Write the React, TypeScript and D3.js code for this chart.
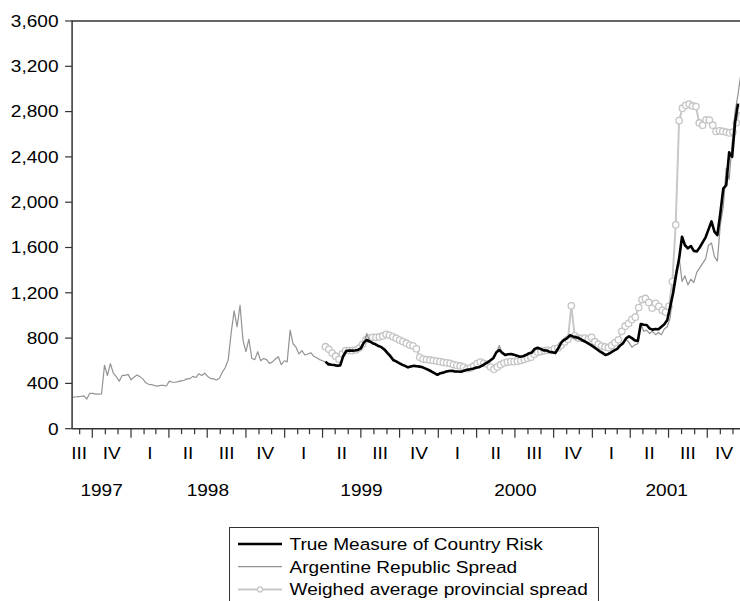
import React from 'react';
import * as d3 from 'd3';

// ---------------- data ----------------
const SPREAD_START = '1997-08-14'; // weekly observations
const TRUE_START = '1999-04-08'; // weekly observations
const PROV_START = '1999-04-08'; // 8-day observations
const SPREAD_STEP = 7;
const TRUE_STEP = 7;
const PROV_STEP = 8;

const spread = [
  277, 280, 283, 286, 290, 262, 313, 312, 306, 305,
  308, 560, 470, 575, 490, 459, 420, 470, 470, 480,
  432, 455, 474, 460, 440, 405, 392, 390, 380, 376,
  382, 383, 377, 420, 410, 410, 415, 422, 428, 440,
  442, 462, 452, 485, 470, 490, 462, 445, 440, 430,
  445, 500, 540, 610, 850, 1040, 900, 1090, 780, 680,
  790, 620, 610, 680, 600, 620, 610, 577, 590, 615,
  636, 565, 600, 590, 870, 750, 720, 660, 690, 651,
  660, 671, 640, 627, 610, 600, 590, 560, 570, 555,
  560, 550, 640, 690, 685, 700, 690, 700, 720, 760,
  840, 770, 760, 740, 730, 715, 690, 660, 630, 600,
  590, 575, 560, 555, 535, 555, 550, 550, 545, 540,
  530, 515, 500, 485, 470, 490, 492, 500, 515, 505,
  500, 505, 500, 510, 520, 525, 530, 545, 540, 560,
  570, 580, 600, 615, 670, 735, 660, 650, 660, 655,
  650, 640, 630, 640, 650, 665, 672, 700, 705, 700,
  690, 695, 680, 675, 665, 705, 760, 780, 790, 815,
  800, 790, 800, 780, 770, 755, 740, 720, 705, 680,
  660, 650, 655, 670, 690, 700, 730, 750, 790, 760,
  720, 740, 750, 930, 860, 870, 840, 860, 830, 850,
  830, 880, 900, 980, 1250, 1400, 1520, 1300, 1350, 1270,
  1320, 1290, 1380, 1420, 1460, 1500, 1620, 1640, 1520, 1480,
  1800, 1960, 2300, 2200, 2520, 2800, 2950, 3140,
];

const trueRisk = [
  592, 570, 565, 562, 555, 560, 640, 685, 690, 688,
  690, 695, 710, 760, 783, 770, 755, 745, 730, 720,
  700, 670, 642, 607, 595, 580, 565, 555, 542, 550,
  555, 552, 548, 542, 530, 518, 505, 490, 476, 490,
  495, 505, 510, 512, 505, 505, 503, 512, 520, 524,
  530, 538, 542, 555, 570, 585, 605, 625, 675, 695,
  670, 650, 658, 660, 652, 645, 635, 640, 650, 665,
  672, 705, 715, 705, 692, 690, 680, 675, 668, 710,
  760, 785, 800, 825, 815, 808, 800, 783, 770, 755,
  740, 722, 704, 685, 670, 651, 660, 675, 692, 705,
  735, 755, 798, 815, 800, 780, 775, 925, 918, 916,
  885, 875, 880, 878, 900, 922, 960, 1080, 1200, 1360,
  1500, 1695, 1620, 1593, 1613, 1570, 1565, 1600, 1645, 1690,
  1760, 1830, 1740, 1710, 1900, 2120, 2150, 2440, 2400, 2700, 2870,
];

const provincial = [
  724, 701, 668, 640, 613, 660, 689, 690, 689, 695,
  712, 745, 785, 800, 807, 807, 810, 819, 834, 825,
  812, 798, 783, 770, 755, 738, 732, 705, 630, 615,
  611, 607, 602, 598, 592, 586, 581, 577, 566, 560,
  554, 545, 530, 535, 552, 575, 588, 577, 572, 545,
  524, 545, 565, 580, 588, 592, 592, 596, 602, 612,
  622, 632, 658, 675, 682, 688, 692, 690, 705, 712,
  737, 765, 790, 1085, 820, 800, 798, 800, 790, 807,
  768, 745, 730, 722, 715, 735, 760, 785, 860, 905,
  930, 965, 985, 1070, 1140, 1150, 1115, 1065, 1107, 1080,
  1045, 1030, 1080, 1300, 1800, 2720, 2830, 2855, 2867, 2850,
  2845, 2700, 2680, 2728, 2725, 2680, 2625, 2630, 2625, 2620,
  2612, 2620, 2700, 2820,
];

const yTicks = [0, 400, 800, 1200, 1600, 2000, 2400, 2800, 3200, 3600];
const quarterNames = ['I', 'II', 'III', 'IV'];
const years = [1997, 1998, 1999, 2000, 2001];
const legendLabels = [
  'True Measure of Country Risk',
  'Argentine Republic Spread',
  'Weighed average provincial spread',
];

// ---------------- layout ----------------
const W = 740;
const H = 601;
const FONT = '"Liberation Sans", Arial, Helvetica, sans-serif';
const FS = 16.3;
const SX = 1.17; // horizontal stretch of the reference's lettering
const parse = d3.timeParse('%Y-%m-%d');

const AXIS_START = parse('1997-08-14') as Date;
const AXIS_END = parse('2001-12-20') as Date;

const x = d3
  .scaleTime()
  .domain([parse('1997-10-01') as Date, parse('2002-01-01') as Date])
  .range([92.3, 746]);
const y = d3.scaleLinear().domain([0, 3600]).range([428.7, 21]);

const X0 = x(AXIS_START);
const X1 = x(AXIS_END);

type Pt = { date: Date; v: number };
const series = (start: string, step: number, vals: number[]): Pt[] => {
  const s = parse(start) as Date;
  return vals.map((v, i) => ({ date: d3.timeDay.offset(s, i * step), v }));
};

const spreadPts = series(SPREAD_START, SPREAD_STEP, spread);
const truePts = series(TRUE_START, TRUE_STEP, trueRisk);
const provPts = series(PROV_START, PROV_STEP, provincial);

const line = d3
  .line<Pt>()
  .x((d) => x(d.date))
  .y((d) => y(d.v));

const months = d3.timeMonth.range(d3.timeMonth.ceil(AXIS_START), AXIS_END);
const quarters = d3.timeMonth.every(3)!.range(parse('1997-07-01') as Date, AXIS_END);

const clampMid = (a: Date, b: Date) => {
  const xa = Math.max(x(a), X0);
  const xb = Math.min(x(b), X1);
  return (xa + xb) / 2;
};

function T({
  x: tx,
  y: ty,
  anchor = 'start',
  children,
}: {
  x: number;
  y: number;
  anchor?: 'start' | 'middle' | 'end';
  children: React.ReactNode;
}) {
  return (
    <text
      transform={`translate(${tx},${ty}) scale(${SX},1)`}
      textAnchor={anchor}
      fontSize={FS}
      fill="#000"
    >
      {children}
    </text>
  );
}

export default function App() {
  const axisColor = '#333';
  const legendX = 229.5;
  const legendW = 369;
  return (
    <svg
      width={W}
      height={H}
      style={{ position: 'absolute', left: 0, top: 0, background: '#fff' }}
      fontFamily={FONT}
    >
      <defs>
        <clipPath id="plot">
          <rect x={X0} y={0} width={X1 - X0 + 2} height={429} />
        </clipPath>
      </defs>

      {/* y ticks and labels */}
      {yTicks.map((t) => (
        <g key={t}>
          <line x1={X0 - 7} x2={X0} y1={y(t)} y2={y(t)} stroke={axisColor} strokeWidth={1.2} />
          <T x={58.5} y={y(t) + 5.8} anchor="end">
            {d3.format(',')(t)}
          </T>
        </g>
      ))}

      {/* x ticks */}
      {months.map((m, i) => {
        const major = m.getMonth() % 3 === 0;
        return (
          <line
            key={i}
            x1={x(m)}
            x2={x(m)}
            y1={y(0)}
            y2={y(0) + (major ? 9 : 5.5)}
            stroke={axisColor}
            strokeWidth={1.2}
          />
        );
      })}

      {/* quarter labels */}
      {quarters.map((q, i) => (
        <T key={i} x={clampMid(q, d3.timeMonth.offset(q, 3)) - (i === 0 ? 3 : 0)} y={459} anchor="middle">
          {quarterNames[Math.floor(q.getMonth() / 3)]}
        </T>
      ))}

      {/* year labels */}
      {years.map((yr) => (
        <T key={yr} x={clampMid(new Date(yr, 0, 1), new Date(yr + 1, 0, 1))} y={496} anchor="middle">
          {yr}
        </T>
      ))}

      {/* series */}
      <g clipPath="url(#plot)">
        <path d={line(provPts) || ''} fill="none" stroke="#c8c8c8" strokeWidth={2} />
        {provPts.map((d, i) => (
          <circle
            key={i}
            cx={x(d.date)}
            cy={y(d.v)}
            r={3.2}
            fill="#fff"
            stroke="#c4c4c4"
            strokeWidth={1.3}
          />
        ))}
        <path d={line(spreadPts) || ''} fill="none" stroke="#939393" strokeWidth={1.2} strokeLinejoin="round" />
        <path d={line(truePts) || ''} fill="none" stroke="#000" strokeWidth={2.6} strokeLinejoin="round" />
      </g>

      {/* frame */}
      <path
        d={`M${X0},${y(0)} L${X0},${y(3600)} L${W + 2},${y(3600)}`}
        fill="none"
        stroke={axisColor}
        strokeWidth={1.5}
      />
      <line x1={X0} x2={W + 2} y1={y(0)} y2={y(0)} stroke={axisColor} strokeWidth={1.5} />

      {/* legend */}
      <g>
        <rect x={legendX} y={527.5} width={legendW} height={90} fill="#fff" stroke="#333" strokeWidth={1} />
        {legendLabels.map((lab, i) => {
          const ly = 544 + i * 22.7;
          return (
            <g key={lab}>
              {i === 0 && <line x1={238} x2={282} y1={ly} y2={ly} stroke="#000" strokeWidth={2.6} />}
              {i === 1 && <line x1={238} x2={282} y1={ly} y2={ly} stroke="#939393" strokeWidth={1.2} />}
              {i === 2 && (
                <g>
                  <line x1={238} x2={282} y1={ly} y2={ly} stroke="#c8c8c8" strokeWidth={2} />
                  <circle cx={260} cy={ly} r={2.5} fill="#fff" stroke="#c4c4c4" strokeWidth={1.2} />
                </g>
              )}
              <T x={289.5} y={ly + 5.8}>
                {lab}
              </T>
            </g>
          );
        })}
      </g>
    </svg>
  );
}
